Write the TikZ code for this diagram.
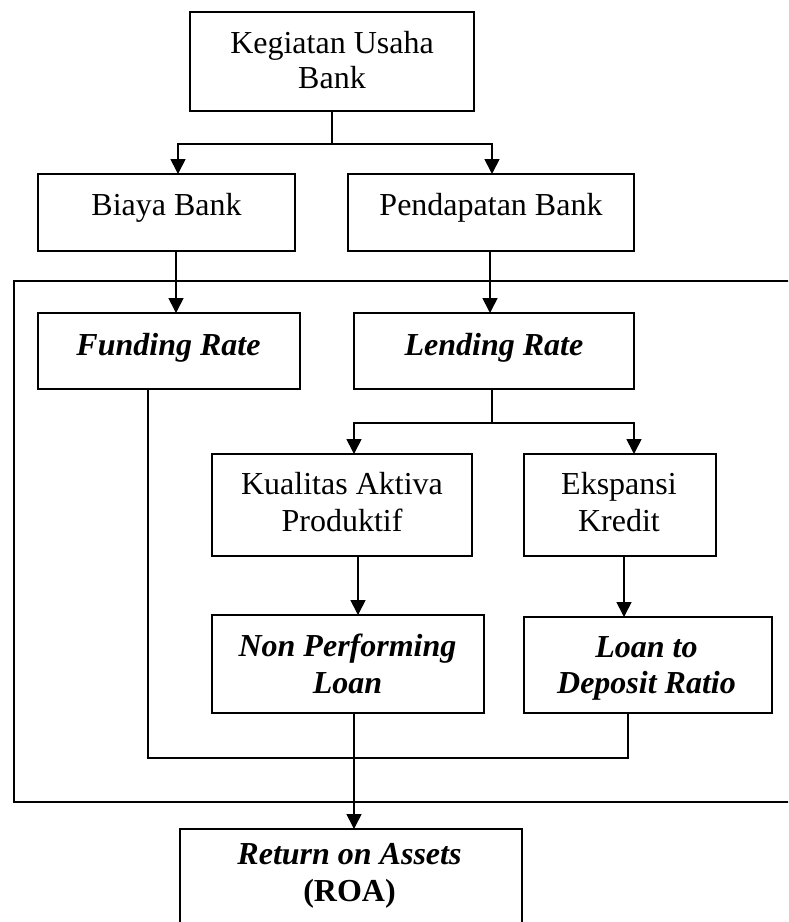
\documentclass[tikz,border=0pt]{standalone}
\usepackage{fontspec}
\setmainfont{Liberation Serif}
\usetikzlibrary{arrows.meta}
\tikzset{
  bx/.style={draw, line width=1.8pt, inner sep=0pt, outer sep=0pt},
  txt/.style={inner sep=0pt, align=center, font=\fontsize{32}{37}\selectfont},
  bi/.style={inner sep=0pt, align=center, font=\fontsize{32}{37}\selectfont\bfseries\itshape},
  ln/.style={line width=1.7pt},
  arr/.style={line width=1.7pt, -{Triangle[length=15pt,width=15pt]}},
}
\begin{document}
\begin{tikzpicture}[x=1pt,y=-1pt]
\useasboundingbox (0,0) rectangle (788,922);
\fill[white] (0,0) rectangle (788,922);
\clip (0,0) rectangle (788,922);

% boxes
\node[bx, minimum width=284pt, minimum height=99pt] (top) at (332,61.5) {};
\node[bx, minimum width=257pt, minimum height=77pt] (biaya) at (166.5,212.5) {};
\node[bx, minimum width=286pt, minimum height=77pt] (pend) at (491,212.5) {};
\node[bx, minimum width=262pt, minimum height=76pt] (fund) at (169,351) {};
\node[bx, minimum width=280pt, minimum height=76pt] (lend) at (494,351) {};
\node[bx, minimum width=260pt, minimum height=102pt] (kual) at (342,505) {};
\node[bx, minimum width=192pt, minimum height=102pt] (eksp) at (620,505) {};
\node[bx, minimum width=272pt, minimum height=98pt] (npl) at (348,664) {};
\node[bx, minimum width=248pt, minimum height=96pt] (ldr) at (648,665) {};
\node[bx, minimum width=342pt, minimum height=111pt] (roa) at (351,884.5) {};
\node[bx, minimum width=806pt, minimum height=521pt] (frame) at (417,541.5) {};

% texts
\node[txt] (topt) at (332,59.8) {Kegiatan Usaha\\[-2pt]Bank};
\node[txt, anchor=base] (biayat) at (166.5,215.5) {Biaya Bank};
\node[txt, anchor=base] (pendt) at (491,215.5) {Pendapatan Bank};
\node[bi, anchor=base] (fundt) at (168.5,355) {Funding Rate};
\node[bi, anchor=base] (lendt) at (494,355) {Lending Rate};
\node[txt] (kualt) at (342,502.5) {Kualitas Aktiva\\Produktif};
\node[txt] (ekspt) at (619,502.5) {Ekspansi\\Kredit};
\node[bi] (nplt) at (347.5,664) {Non Performing\\Loan};
\node[bi] (ldrt) at (646.5,668) {Loan to\\[-1pt]Deposit Ratio};
\node[txt, font=\fontsize{32}{37}\selectfont\bfseries] (roat) at (349.5,876) {\textit{Return on Assets}\\(ROA)};

% connectors
\draw[ln] (top.south) -- ++(0,33) coordinate (j1);
\draw[arr] (j1) -| ([xshift=11.5pt]biaya.north);
\draw[arr] (j1) -| ([xshift=1pt]pend.north);
\draw[arr] ([xshift=9.5pt]biaya.south) coordinate (b1) -- (b1 |- fund.north);
\draw[arr] ([xshift=-1pt]pend.south) coordinate (p1) -- (p1 |- lend.north);
\draw[ln] ([xshift=-2pt]lend.south) -- ++(0,34) coordinate (j2);
\draw[arr] (j2) -| ([xshift=12pt]kual.north);
\draw[arr] (j2) -| ([xshift=14pt]eksp.north);
\draw[arr] ([xshift=16pt]kual.south) coordinate (k1) -- (k1 |- npl.north);
\draw[arr] ([xshift=4pt]eksp.south) coordinate (e1) -- (e1 |- ldr.north);
\draw[ln] ([xshift=-21pt]fund.south) -- ++(0,369) -| ([xshift=-20pt]ldr.south);
\draw[arr] ([xshift=6pt]npl.south) coordinate (n1) -- (n1 |- roa.north);
\end{tikzpicture}
\end{document}
